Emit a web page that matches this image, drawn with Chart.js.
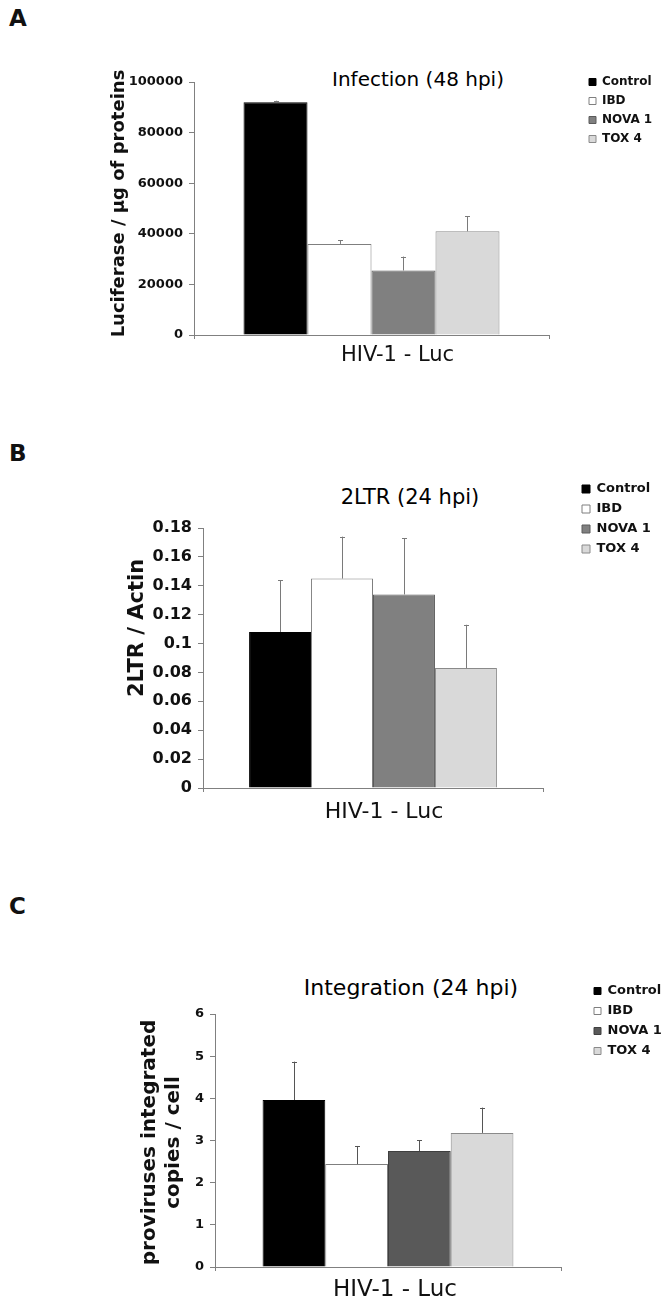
<!DOCTYPE html>
<html>
<head>
<meta charset="utf-8">
<script src="https://cdn.jsdelivr.net/npm/chart.js@4.4.1/dist/chart.umd.min.js"></script>
<style>
html,body{margin:0;padding:0;background:#fff;}
body{width:664px;height:1304px;position:relative;overflow:hidden;font-family:"DejaVu Sans",sans-serif;color:#111;}
canvas{position:absolute;left:0;}
.lbl{position:absolute;font-weight:bold;font-size:23px;line-height:1;}
.ttl{position:absolute;line-height:1;transform:translate(-50%,-50%);white-space:nowrap;color:#000;}
</style>
</head>
<body>
<div class="lbl" style="left:9px;top:7px">A</div>
<div class="lbl" style="left:9px;top:442px">B</div>
<div class="lbl" style="left:9px;top:895px">C</div>
<div class="ttl" style="left:418px;top:79px;font-size:20px">Infection (48 hpi)</div>
<div class="ttl" style="left:410px;top:497px;font-size:21px">2LTR (24 hpi)</div>
<div class="ttl" style="left:411px;top:988px;font-size:22px">Integration (24 hpi)</div>
<canvas id="cA" width="664" height="440" style="top:0px"></canvas>
<canvas id="cB" width="664" height="430" style="top:440px"></canvas>
<canvas id="cC" width="664" height="434" style="top:870px"></canvas>
<script>
// ---- data ----
const categories = ['HIV-1 - Luc'];
const seriesNames = ['Control', 'IBD', 'NOVA 1', 'TOX 4'];

const infectionValues = [92000, 36000, 25500, 41000];
const infectionErrors = [600, 1500, 5500, 6000];
const infectionTicks = [0, 20000, 40000, 60000, 80000, 100000];

const ltrValues = [0.108, 0.145, 0.134, 0.083];
const ltrErrors = [0.036, 0.029, 0.039, 0.030];
const ltrTicks = [0, 0.02, 0.04, 0.06, 0.08, 0.1, 0.12, 0.14, 0.16, 0.18];

const integrationValues = [3.96, 2.44, 2.75, 3.18];
const integrationErrors = [0.91, 0.43, 0.26, 0.60];
const integrationTicks = [0, 1, 2, 3, 4, 5, 6];

// ---- plugins ----
const errorBars = {
  id: 'errorBars',
  afterDatasetsDraw(chart, args, opts) {
    const ctx = chart.ctx;
    const ys = chart.scales.y;
    chart.data.datasets.forEach((ds, i) => {
      const meta = chart.getDatasetMeta(i);
      meta.data.forEach((bar, j) => {
        const v = ds.data[j], e = ds.errors[j];
        const yTop = ys.getPixelForValue(v + e);
        const x = Math.round(bar.x) + 0.5;
        ctx.save();
        ctx.strokeStyle = opts.color;
        ctx.lineWidth = 1;
        ctx.beginPath();
        ctx.moveTo(x, bar.y);
        ctx.lineTo(x, yTop);
        ctx.moveTo(x - opts.cap, Math.round(yTop) + 0.5);
        ctx.lineTo(x + opts.cap, Math.round(yTop) + 0.5);
        ctx.stroke();
        ctx.restore();
      });
    });
  }
};

// places the legend box and nudges the vertical centre of the y-axis title only
const placer = {
  id: 'placer',
  afterLayout(chart, args, opts) {
    const lg = chart.legend;
    if (lg) {
      const lab = lg.options.labels;
      const pad = lab.padding;
      const itemH = Math.max(opts.fontSize, lab.boxHeight);
      lg.left = opts.x - pad;
      lg.top = opts.y - pad - itemH / 2;
      lg.width = 140;
      lg.height = 140;
      lg.right = lg.left + 140;
      lg.bottom = lg.top + 140;
    }
    const ys = chart.scales.y;
    if (ys && opts.titleDy && !ys._titleWrapped) {
      const orig = ys.drawTitle;
      const dy = opts.titleDy;
      ys.drawTitle = function () {
        this.top -= dy; this.bottom -= dy;
        orig.call(this);
        this.top += dy; this.bottom += dy;
      };
      ys._titleWrapped = true;
    }
  }
};

const FONT = '"DejaVu Sans", sans-serif';

function makeChart(id, p) {
  const datasets = seriesNames.map((name, i) => ({
    label: name,
    data: [p.values[i]],
    errors: [p.errors[i]],
    backgroundColor: p.fills[i],
    borderColor: p.borders[i],
    borderWidth: 1,
    categoryPercentage: p.catPct,
    barPercentage: 1.0
  }));
  return new Chart(document.getElementById(id), {
    type: 'bar',
    data: { labels: categories, datasets },
    plugins: [errorBars, placer],
    options: {
      responsive: false,
      animation: false,
      devicePixelRatio: 1,
      layout: { padding: p.pad },
      plugins: {
        tooltip: { enabled: false },
        title: { display: false },
        legend: {
          display: true,
          position: 'right',
          align: 'start',
          maxWidth: 1,
          labels: {
            boxWidth: p.legBox,
            boxHeight: p.legBox,
            padding: p.legPad,
            color: '#111',
            font: { family: FONT, size: p.legFont, weight: 'bold' }
          }
        },
        placer: { x: p.legX, y: p.legY, fontSize: p.legFont, titleDy: p.titleDy },
        errorBars: { color: p.errColor, cap: 2.5 }
      },
      scales: {
        x: {
          afterFit: s => { s.height = p.xH; },
          grid: { display: true, drawOnChartArea: false, drawTicks: true, tickLength: 4, color: '#808080' },
          border: { display: true, color: '#808080', width: 1 },
          ticks: {
            color: '#111',
            padding: p.xTickPad,
            labelOffset: p.xLabelOffset,
            font: { family: FONT, size: p.xFont, weight: 'normal' }
          }
        },
        y: {
          min: 0,
          max: p.ticks[p.ticks.length - 1],
          afterFit: s => { s.width = p.yW; },
          afterBuildTicks: s => { s.ticks = p.ticks.map(v => ({ value: v })); },
          grid: { display: true, drawOnChartArea: false, drawTicks: true, tickLength: 5, color: '#808080' },
          border: { display: true, color: '#808080', width: 1 },
          ticks: {
            color: '#111',
            padding: p.yTickPad,
            font: { family: FONT, size: p.yFont, weight: 'bold' },
            callback: v => String(Number(v.toFixed(2)))
          },
          title: {
            display: true,
            text: p.yTitle,
            color: '#111',
            padding: { top: p.yTitlePad, bottom: 0 },
            font: { family: FONT, size: p.yTitleFont, weight: 'bold', lineHeight: 1.2 }
          }
        }
      }
    }
  });
}

// Panel A: chart area x 194..549, y 82..335 (page)
makeChart('cA', {
  values: infectionValues, errors: infectionErrors, ticks: infectionTicks,
  fills: ['#000000', '#ffffff', '#808080', '#d9d9d9'],
  borders: ['#000000', '#7f7f7f', '#5a5a5a', '#8a8a8a'],
  errColor: '#7a7a7a',
  catPct: 0.721,
  pad: { top: 82, left: 100, right: 114, bottom: 65 },
  yW: 94, xH: 40,
  yFont: 13, yTickPad: 6,
  yTitle: 'Luciferase / µg of proteins', yTitleFont: 18, yTitlePad: 9, titleDy: 5,
  xFont: 21, xTickPad: 4, xLabelOffset: 26,
  legX: 589, legY: 82, legFont: 12, legBox: 7, legPad: 7
});

// Panel B: chart area x 203..543, y 528..788 (page) -> canvas top 440
makeChart('cB', {
  values: ltrValues, errors: ltrErrors, ticks: ltrTicks,
  fills: ['#000000', '#ffffff', '#808080', '#d9d9d9'],
  borders: ['#000000', '#7f7f7f', '#5a5a5a', '#8a8a8a'],
  errColor: '#7a7a7a',
  catPct: 0.729,
  pad: { top: 88, left: 110, right: 120, bottom: 42 },
  yW: 93, xH: 40,
  yFont: 16, yTickPad: 6,
  yTitle: '2LTR / Actin', yTitleFont: 21, yTitlePad: 15, titleDy: 30,
  xFont: 22, xTickPad: 7, xLabelOffset: 11,
  legX: 582, legY: 49, legFont: 13, legBox: 8, legPad: 7
});

// Panel C: chart area x 215..561, y 1014..1267 (page) -> canvas top 870
makeChart('cC', {
  values: integrationValues, errors: integrationErrors, ticks: integrationTicks,
  fills: ['#000000', '#ffffff', '#595959', '#d9d9d9'],
  borders: ['#000000', '#7f7f7f', '#3f3f3f', '#8a8a8a'],
  errColor: '#555555',
  catPct: 0.725,
  pad: { top: 144, left: 120, right: 102, bottom: 0 },
  yW: 95, xH: 37,
  yFont: 13, yTickPad: 6,
  yTitle: ['proviruses integrated', 'copies / cell'], yTitleFont: 20, yTitlePad: 18, titleDy: -2,
  xFont: 23, xTickPad: 5, xLabelOffset: 7,
  legX: 594, legY: 121, legFont: 13, legBox: 7, legPad: 7
});
</script>
</body>
</html>
